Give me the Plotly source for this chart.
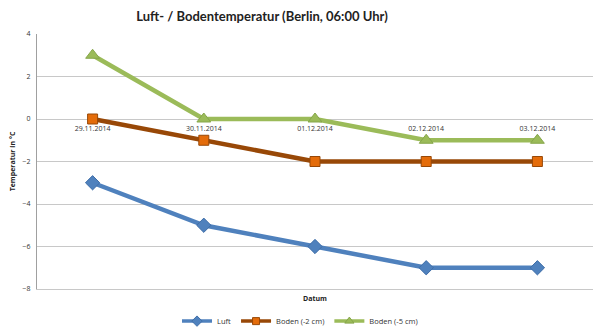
import plotly.graph_objects as go

dates = ["29.11.2014", "30.11.2014", "01.12.2014", "02.12.2014", "03.12.2014"]
luft = [-3, -5, -6, -7, -7]
boden_2 = [0, -1, -2, -2, -2]
boden_5 = [3, 0, 0, -1, -1]
y_ticks = [-8, -6, -4, -2, 0, 2, 4]

FONT = "Open Sans"
Y_MIN, Y_MAX = -8, 4

series = [
    dict(name="Luft", y=luft, line="#4F81BD", fill="#4F81BD", edge="#3F6EA8",
         symbol="diamond", size=11, leg_size=8),
    dict(name="Boden (-2 cm)", y=boden_2, line="#984807", fill="#E46C0A", edge="#984807",
         symbol="square", size=10, leg_size=7),
    dict(name="Boden (-5 cm)", y=boden_5, line="#9BBB59", fill="#9BBB59", edge="#86A64A",
         symbol="triangle-up", size=12, leg_size=8),
]

fig = go.Figure()

for s in series:
    fig.add_trace(go.Scatter(
        x=dates, y=s["y"], name=s["name"], mode="lines+markers", showlegend=False,
        line=dict(color=s["line"], width=4.5),
        marker=dict(symbol=s["symbol"], size=s["size"], color=s["fill"],
                    line=dict(color=s["edge"], width=1)),
    ))

# legend entries with compact line/marker samples (on the bottom frame axis)
for s in series:
    fig.add_trace(go.Scatter(
        x=[None], y=[None], name=s["name"], mode="lines+markers", xaxis="x2",
        line=dict(color=s["line"], width=3.5),
        marker=dict(symbol=s["symbol"], size=s["leg_size"], color=s["fill"],
                    line=dict(color=s["edge"], width=1)),
    ))

# x axis crosses the value axis at 0
zero_pos = (0 - Y_MIN) / (Y_MAX - Y_MIN)

fig.update_layout(
    width=600, height=327,
    margin=dict(l=37, r=7, t=34, b=38, autoexpand=False),
    paper_bgcolor="white", plot_bgcolor="white",
    font=dict(family=FONT, size=7, color="#333333"),
    title=dict(text="<b>Luft- / Bodentemperatur (Berlin, 06:00 Uhr)</b>",
               x=262 / 600, xanchor="center", xref="container",
               y=1 - 16 / 327, yref="container", yanchor="middle",
               font=dict(family="Lato", size=13, color="#222222")),
    xaxis=dict(
        type="category", range=[-0.5, 4.5],
        anchor="free", position=zero_pos,
        showgrid=False, showline=False, zeroline=False,
        ticks="outside", ticklen=3, tickcolor="rgba(0,0,0,0)",
        tickfont=dict(family=FONT, size=7, color="#333333"),
    ),
    xaxis2=dict(
        overlaying="x", anchor="y", side="bottom", range=[0, 1],
        showline=True, linecolor="#C8C8C8", linewidth=1,
        showgrid=False, zeroline=False, showticklabels=False, ticks="",
    ),
    yaxis=dict(
        range=[Y_MIN, Y_MAX], tickvals=y_ticks,
        showgrid=True, gridcolor="#C8C8C8", gridwidth=1,
        zeroline=False, showline=True, linecolor="#A0A0A0", linewidth=1,
        ticks="outside", ticklen=4, tickcolor="rgba(0,0,0,0)",
        tickfont=dict(family=FONT, size=7, color="#333333"),
        title=dict(text="<b>Temperatur in °C</b>", standoff=6,
                   font=dict(family=FONT, size=7, color="#222222")),
    ),
    legend=dict(orientation="h", x=0.5, xanchor="center", xref="container",
                y=0.018, yref="container", yanchor="middle",
                font=dict(family=FONT, size=7.5), itemwidth=30,
                bgcolor="rgba(0,0,0,0)"),
    showlegend=True,
)

fig.add_annotation(text="<b>Datum</b>", xref="paper", yref="paper",
                   x=0.5, y=-0.012, xanchor="center", yanchor="top",
                   showarrow=False, font=dict(family=FONT, size=7, color="#222222"))

fig.write_html("out.html")
